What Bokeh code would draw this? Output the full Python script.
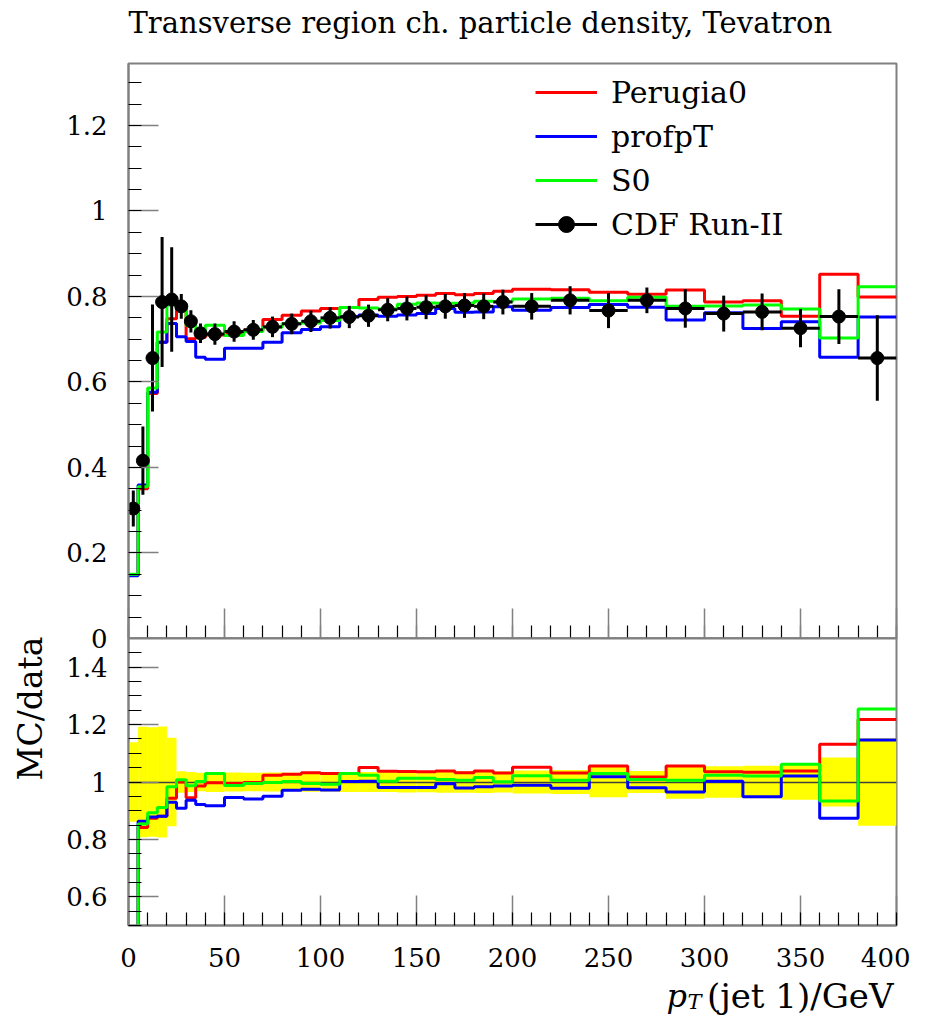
import numpy as np
from bokeh.plotting import figure
from bokeh.layouts import column, row
from bokeh.models import (Range1d, SingleIntervalTicker, FixedTicker, CustomJSTickFormatter,
                          Legend, LegendItem, Label, LinearAxis)
from bokeh.embed import file_html
from bokeh.resources import INLINE

# ---------------- data ----------------
bin_edges = [0, 5, 10, 15, 20, 25, 30, 35, 40, 50, 60, 70, 80, 90, 100, 110, 120, 130,
             140, 150, 160, 170, 180, 190, 200, 220, 240, 260, 280, 300, 320, 340, 360,
             380, 400]

cdf_density = [0.304, 0.416, 0.656, 0.787, 0.793, 0.777, 0.742, 0.714, 0.712, 0.718,
               0.722, 0.729, 0.736, 0.742, 0.750, 0.752, 0.755, 0.769, 0.772, 0.775,
               0.777, 0.779, 0.777, 0.787, 0.777, 0.791, 0.767, 0.791, 0.772, 0.760,
               0.764, 0.726, 0.753, 0.656]

cdf_error = [0.042, 0.080, 0.125, 0.152, 0.122, 0.029, 0.026, 0.023, 0.025, 0.024,
             0.023, 0.024, 0.024, 0.025, 0.025, 0.026, 0.026, 0.027, 0.028, 0.028,
             0.029, 0.029, 0.030, 0.029, 0.031, 0.033, 0.041, 0.030, 0.045, 0.042,
             0.043, 0.045, 0.064, 0.100]

perugia0 = [0.148, 0.350, 0.573, 0.693, 0.748, 0.777, 0.701, 0.704, 0.710, 0.714,
            0.721, 0.746, 0.756, 0.766, 0.772, 0.774, 0.793, 0.798, 0.800, 0.803,
            0.807, 0.804, 0.807, 0.812, 0.817, 0.816, 0.810, 0.805, 0.815, 0.787,
            0.790, 0.754, 0.852, 0.799]

profpt = [0.147, 0.359, 0.576, 0.693, 0.737, 0.706, 0.695, 0.658, 0.653, 0.679,
          0.679, 0.693, 0.715, 0.723, 0.729, 0.753, 0.757, 0.754, 0.757, 0.760,
          0.772, 0.763, 0.764, 0.776, 0.768, 0.774, 0.781, 0.775, 0.745, 0.762,
          0.725, 0.741, 0.658, 0.752]

s0 = [0.150, 0.355, 0.586, 0.717, 0.780, 0.783, 0.732, 0.715, 0.733, 0.709,
      0.718, 0.728, 0.737, 0.738, 0.744, 0.774, 0.773, 0.771, 0.782, 0.785,
      0.784, 0.784, 0.789, 0.788, 0.794, 0.796, 0.790, 0.798, 0.777, 0.778,
      0.780, 0.771, 0.703, 0.823]

series = [("Perugia0", perugia0, "#ff0000"),
          ("profpT", profpt, "#0000ff"),
          ("S0", s0, "#00ff00")]

title_text = "Transverse region ch. particle density, Tevatron"
ratio_label = "MC/data"

# ---------------- styling ----------------
FONT = "DejaVu Serif"
GREY = "#808080"
LEFT = 68          # left border of the panels (a 60px label strip sits left of them)

edges = np.array(bin_edges, dtype=float)
centers = 0.5 * (edges[:-1] + edges[1:])
data = np.array(cdf_density)
err = np.array(cdf_error)

xr = Range1d(0, 400)


def style(p):
    p.grid.visible = False
    p.outline_line_color = GREY
    p.outline_line_width = 2
    for ax in (p.xaxis[0], p.yaxis[0]):
        ax.axis_line_color = GREY
        ax.axis_line_width = 2
        ax.major_tick_in = 30
        ax.major_tick_out = 0
        ax.minor_tick_in = 13
        ax.minor_tick_out = 0
        ax.major_tick_line_color = GREY
        ax.major_tick_line_width = 1.5
        ax.minor_tick_line_color = "black"
        ax.minor_tick_line_width = 1.2
        ax.major_label_text_font = FONT
        ax.major_label_text_font_size = "26px"
        ax.major_label_text_color = "black"
    p.xaxis[0].ticker = SingleIntervalTicker(interval=50, num_minor_ticks=5)
    p.yaxis[0].ticker = SingleIntervalTicker(interval=0.2, num_minor_ticks=4)
    p.yaxis[0].formatter = CustomJSTickFormatter(
        code="return String(Math.round(tick*100)/100);")
    p.yaxis[0].major_label_standoff = 21


def blank(p):
    p.axis.visible = False
    p.grid.visible = False
    p.outline_line_color = None
    p.border_fill_alpha = 0
    p.background_fill_alpha = 0


# ---------------- main panel ----------------
p1 = figure(frame_width=768, frame_height=575, x_range=xr, y_range=Range1d(0, 1.345),
            min_border_left=LEFT, min_border_right=14, min_border_top=82,
            min_border_bottom=20, toolbar_location=None, output_backend="svg",
            title=title_text)
style(p1)
p1.margin = (-19, 0, 0, 0)
p1.title.text_font = FONT
p1.title.text_font_size = "29px"
p1.title.text_font_style = "normal"
p1.title.text_color = "black"
p1.title.align = "left"
p1.title.vertical_align = "top"
p1.title.standoff = 44

# bottom edge of the main panel: inward ticks only, no labels
fine_ticks = list(np.arange(0, 401, 10))
coarse_ticks = list(np.arange(0, 401, 50))
xa = p1.xaxis[0]
xa.ticker = FixedTicker(ticks=[], minor_ticks=fine_ticks)
xa.major_label_text_font_size = "0px"
xa.major_label_standoff = 0
xb = LinearAxis(ticker=FixedTicker(ticks=[], minor_ticks=coarse_ticks),
                axis_line_color=GREY, axis_line_width=2,
                minor_tick_in=30, minor_tick_out=0, minor_tick_line_color=GREY,
                minor_tick_line_width=1.5, major_tick_in=0, major_tick_out=0,
                major_label_text_font_size="0px", major_label_standoff=0)
p1.add_layout(xb, "below")

items = []
for name, vals, col in series:
    r = p1.step(edges, np.append(vals, vals[-1]), mode="after",
                line_color=col, line_width=3)
    items.append(LegendItem(label=name, renderers=[r]))

hbar = p1.segment(x0=edges[:-1], x1=edges[1:], y0=data, y1=data,
                  line_color="black", line_width=3)
p1.segment(x0=centers, x1=centers, y0=data - err, y1=data + err,
           line_color="black", line_width=3)
pts = p1.scatter(centers, data, size=13, fill_color="black", line_color="black")
items.append(LegendItem(label="CDF Run-II", renderers=[hbar, pts]))

legend = Legend(items=items, location=(407, 394), border_line_alpha=0,
                background_fill_alpha=0, label_text_font=FONT,
                label_text_font_size="30px", label_text_color="black",
                glyph_width=62, glyph_height=40,
                label_height=40, spacing=4, label_standoff=14, padding=0, margin=0)
p1.add_layout(legend)

# ---------------- ratio panel ----------------
p2 = figure(frame_width=768, frame_height=287, x_range=xr, y_range=Range1d(0.5, 1.5),
            min_border_left=LEFT, min_border_right=14, min_border_top=20,
            min_border_bottom=60, toolbar_location=None, output_backend="svg")
style(p2)
p2.margin = (-40, 0, 0, 0)
p2.border_fill_alpha = 0
p2.xaxis[0].major_label_standoff = 22

rel = err / data
p2.quad(left=edges[:-1], right=edges[1:], bottom=1 - rel, top=1 + rel,
        fill_color="#ffff00", line_color=None)
p2.hspan(y=[1.0], line_color="#404040", line_width=1.5)
for name, vals, col in series:
    ratio = np.array(vals) / data
    p2.step(edges, np.append(ratio, ratio[-1]), mode="after",
            line_color=col, line_width=3)

# ---------------- x-axis title strip (transparent overlay) ----------------
p3 = figure(frame_width=768, frame_height=65, x_range=Range1d(0, 1), y_range=Range1d(0, 1),
            min_border_left=LEFT, min_border_right=14, min_border_top=0,
            min_border_bottom=0, toolbar_location=None, output_backend="svg")
p3.margin = (-35, 0, 0, 0)
blank(p3)
p3.add_layout(Label(x=538, y=20, x_units="screen", y_units="screen", text="p",
                    text_font=FONT, text_font_size="32px", text_font_style="italic",
                    text_color="black", text_baseline="alphabetic"))
p3.add_layout(Label(x=559, y=14, x_units="screen", y_units="screen", text="T",
                    text_font=FONT, text_font_size="21px", text_font_style="italic",
                    text_color="black", text_baseline="alphabetic"))
p3.add_layout(Label(x=765, y=20, x_units="screen", y_units="screen",
                    text="(jet 1)/GeV", text_font=FONT, text_font_size="34px",
                    text_color="black", text_align="right", text_baseline="alphabetic"))

# ---------------- y-axis title strip for the ratio panel ----------------
p4 = figure(frame_width=60, frame_height=800, x_range=Range1d(0, 1), y_range=Range1d(0, 1),
            min_border_left=0, min_border_right=0, min_border_top=0,
            min_border_bottom=0, toolbar_location=None, output_backend="svg")
blank(p4)
p4.add_layout(Label(x=30, y=164, x_units="screen", y_units="screen", text=ratio_label,
                    angle=np.pi / 2, text_align="right", text_baseline="middle",
                    text_font=FONT, text_font_size="33px", text_color="black"))

layout = row(p4, column(p1, p2, p3, spacing=0), spacing=0)
open("out.html", "w").write(file_html(layout, INLINE))
